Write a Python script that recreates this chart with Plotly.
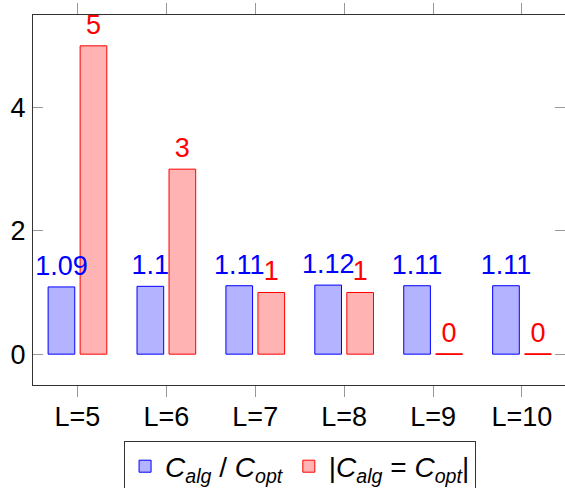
import plotly.graph_objects as go

categories = ["L=5", "L=6", "L=7", "L=8", "L=9", "L=10"]
ratio_values = [1.09, 1.1, 1.11, 1.12, 1.11, 1.11]
equal_counts = [5, 3, 1, 1, 0, 0]

FONT = "Liberation Sans"
FS = 27
BLUE_FILL = "rgb(179,179,255)"
RED_FILL = "rgb(255,179,179)"

idx = list(range(len(categories)))
x_blue = [i - 0.18 for i in idx]
x_red = [i + 0.18 for i in idx]

fig = go.Figure()
fig.add_trace(go.Bar(
    x=x_blue, y=ratio_values, width=0.3,
    marker=dict(color=BLUE_FILL, line=dict(color="blue", width=1)),
    name="<i>C</i><sub><i>alg</i></sub> / <i>C</i><sub><i>opt</i></sub>",
))
fig.add_trace(go.Bar(
    x=x_red, y=equal_counts, width=0.3,
    marker=dict(color=RED_FILL, line=dict(color="red", width=1)),
    name="|<i>C</i><sub><i>alg</i></sub> = <i>C</i><sub><i>opt</i></sub>|",
))
# zero-height bars drawn as a line at their value
zx, zy = [], []
for xv, v in zip(x_red, equal_counts):
    if v == 0:
        zx += [xv - 0.15, xv + 0.15, None]
        zy += [v, v, None]
fig.add_trace(go.Scatter(x=zx, y=zy, mode="lines", line=dict(color="red", width=1.5),
                         showlegend=False, hoverinfo="skip"))
# value labels (transparent marker pushes the text above the bar top)
fig.add_trace(go.Scatter(
    x=x_blue, y=ratio_values, mode="markers+text", text=[str(v) for v in ratio_values],
    marker=dict(size=7, color="rgba(0,0,0,0)"),
    textposition="top center", textfont=dict(color="blue", size=FS, family=FONT),
    showlegend=False, cliponaxis=False, hoverinfo="skip"))
fig.add_trace(go.Scatter(
    x=x_red, y=equal_counts, mode="markers+text", text=[str(v) for v in equal_counts],
    marker=dict(size=7, color="rgba(0,0,0,0)"),
    textposition="top center", textfont=dict(color="red", size=FS, family=FONT),
    showlegend=False, cliponaxis=False, hoverinfo="skip"))
# dummy trace to show right-side y ticks
fig.add_trace(go.Scatter(x=[0], y=[0], yaxis="y2", mode="markers",
                         marker=dict(color="rgba(0,0,0,0)"), showlegend=False, hoverinfo="skip"))

fig.update_layout(
    width=565, height=488,
    margin=dict(l=33, r=0, t=15, b=103, autoexpand=False),
    barmode="overlay",
    plot_bgcolor="white", paper_bgcolor="white",
    font=dict(family=FONT, size=FS, color="black"),
    xaxis=dict(
        range=[-0.5, 5.484], tickvals=idx, ticktext=categories,
        showline=True, linecolor="#333", linewidth=1, mirror="ticks",
        ticks="outside", ticklen=11, tickcolor="#999", tickwidth=1,
        showgrid=False, zeroline=False, ticklabelstandoff=-3, automargin=False,
    ),
    yaxis=dict(
        range=[-0.5, 5.5], tickvals=[0, 2, 4],
        showline=True, linecolor="#333", linewidth=1,
        ticks="inside", ticklen=10, tickcolor="#999", tickwidth=1,
        showgrid=False, zeroline=False, ticklabelstandoff=1, automargin=False,
    ),
    yaxis2=dict(
        range=[-0.5, 5.5], tickvals=[0, 2, 4], overlaying="y", side="right",
        showline=False, ticks="inside", ticklen=10, tickcolor="#999",
        showticklabels=False, showgrid=False, zeroline=False, automargin=False,
    ),
    legend=dict(
        orientation="h", x=0.502, xanchor="center", y=-0.15, yanchor="top",
        bordercolor="#333", borderwidth=1, bgcolor="white",
        font=dict(size=28, family=FONT), itemwidth=30,
    ),
)

fig.write_html("out.html", config={"displayModeBar": False},
               post_script="document.body.style.margin='0';document.body.style.overflow='hidden';")
